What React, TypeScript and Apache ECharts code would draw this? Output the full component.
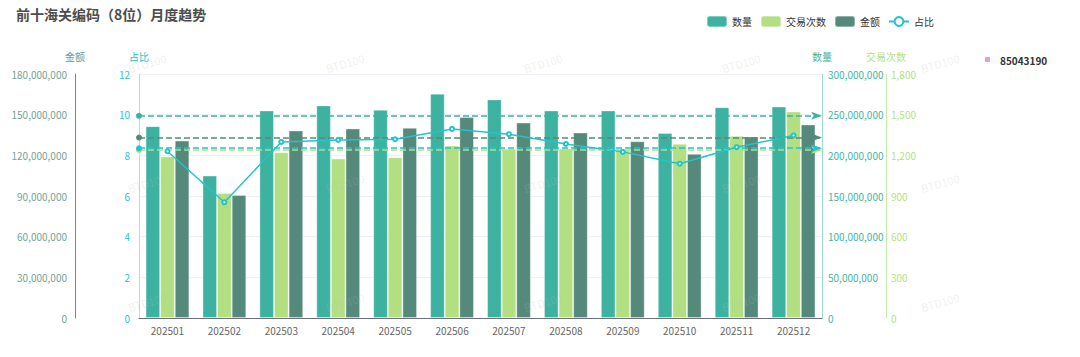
import React, { useEffect, useRef } from "react";
import * as echarts from "echarts";

const months = ["202501", "202502", "202503", "202504", "202505", "202506", "202507", "202508", "202509", "202510", "202511", "202512"];
const quantity = [235900000, 175100000, 255200000, 261400000, 256000000, 275800000, 268800000, 255200000, 255200000, 227600000, 259200000, 260000000];
const tradeCount = [1193, 922, 1223, 1176, 1186, 1272, 1248, 1250, 1242, 1285, 1344, 1524];
const amount = [130900000, 90700000, 138300000, 139800000, 140300000, 148200000, 144200000, 136800000, 130400000, 121100000, 133900000, 142800000];
const share = [8.2, 5.69, 8.66, 8.76, 8.79, 9.3, 9.04, 8.56, 8.17, 7.59, 8.4, 8.98];
const watermarkXs = [147, 345, 543, 741, 940];
const watermarkYs = [63, 183, 302];

const C_QTY = "#3eb2a1";
const C_CNT = "#b1df82";
const C_AMT = "#54897b";
const C_SHR = "#22c4ca";
const FONT = "'Noto Sans CJK SC', 'Noto Sans', sans-serif";

const fmt = (v: number) => Number(v).toLocaleString("en-US");

export default function App() {
  const ref = useRef<HTMLDivElement>(null);
  useEffect(() => {
    if (!ref.current) return;
    const chart = echarts.init(ref.current, undefined, { renderer: "svg" });
    const markLine = (color: string) => ({
      silent: true,
      symbol: ["circle", "arrow"],
      symbolSize: [6, 11],
      label: { show: false },
      lineStyle: { type: "dashed", width: 1.5, color },
      itemStyle: { color },
      emphasis: { disabled: true },
      data: [{ type: "average" }],
    });
    const watermarks: any[] = [];
    watermarkXs.forEach((x) =>
      watermarkYs.forEach((y) =>
        watermarks.push({
          type: "text",
          x,
          y,
          rotation: 0.28,
          silent: true,
          z: 100,
          style: {
            text: "BTD100",
            fill: "rgba(190,190,190,0.22)",
            font: `11px ${FONT}`,
            align: "center",
            verticalAlign: "middle",
          },
        })
      )
    );
    chart.setOption({
      animation: false,
      backgroundColor: "#fff",
      textStyle: { fontFamily: FONT },
      title: {
        text: "前十海关编码（8位）月度趋势",
        left: 16,
        top: 7,
        padding: 0,
        textStyle: { fontSize: 14, fontWeight: "bold", color: "#4d4d4d", fontFamily: FONT },
      },
      legend: {
        left: 706,
        top: 15,
        padding: 0,
        itemWidth: 20,
        itemHeight: 11,
        itemGap: 8,
        textStyle: { fontSize: 10, color: "#333", fontFamily: FONT },
        data: ["数量", "交易次数", "金额", "占比"],
      },
      graphic: [
        { type: "rect", shape: { x: 985, y: 57, width: 5, height: 5 }, style: { fill: "#dda3dd" } },
        {
          type: "text",
          x: 1000,
          y: 60,
          style: { text: "85043190", fill: "#333", font: `bold 10px ${FONT}`, verticalAlign: "middle" },
        },
        ...watermarks,
      ],
      grid: { left: 139, right: 258, top: 74, bottom: 39 },
      xAxis: {
        type: "category",
        data: months,
        axisTick: { alignWithLabel: true, length: 4, lineStyle: { color: "#6e7079" } },
        axisLine: { lineStyle: { color: "#6e7079" } },
        axisLabel: { fontSize: 10, color: "#666", margin: 7 },
      },
      yAxis: [
        {
          type: "value",
          name: "占比",
          position: "left",
          min: 0,
          max: 12,
          interval: 2,
          nameGap: 13,
          nameTextStyle: { color: C_SHR, fontSize: 10, align: "center" },
          axisLine: { show: true, lineStyle: { color: "#a3e4e6" } },
          axisLabel: { color: "#33c3ca", fontSize: 10, margin: 9 },
          splitLine: { show: true, lineStyle: { color: "#eef0f6" } },
        },
        {
          type: "value",
          name: "金额",
          position: "left",
          offset: 64,
          min: 0,
          max: 180000000,
          interval: 30000000,
          nameGap: 13,
          nameTextStyle: { color: "#6a9a8e", fontSize: 10, align: "center" },
          axisLine: { show: true, lineStyle: { color: "#6a8f87" } },
          axisLabel: { color: "#76a196", fontSize: 10, margin: 8, formatter: fmt },
          splitLine: { show: false },
        },
        {
          type: "value",
          name: "数量",
          position: "right",
          min: 0,
          max: 300000000,
          interval: 50000000,
          nameGap: 13,
          nameTextStyle: { color: C_QTY, fontSize: 10, align: "center" },
          axisLine: { show: true, lineStyle: { color: "#9fd8cf" } },
          axisLabel: { color: "#45b4a4", fontSize: 10, margin: 6, formatter: fmt },
          splitLine: { show: false },
        },
        {
          type: "value",
          name: "交易次数",
          position: "right",
          offset: 64,
          min: 0,
          max: 1800,
          interval: 300,
          nameGap: 13,
          nameTextStyle: { color: "#b3df86", fontSize: 10, align: "center" },
          axisLine: { show: true, lineStyle: { color: "#c6e8a8" } },
          axisLabel: { color: "#b3df86", fontSize: 10, margin: 5, formatter: fmt },
          splitLine: { show: false },
        },
      ],
      series: [
        {
          name: "数量",
          type: "bar",
          yAxisIndex: 2,
          data: quantity,
          barGap: "0%",
          barCategoryGap: "23%",
          itemStyle: { color: C_QTY, borderColor: "rgba(255,255,255,0.35)", borderWidth: 1 },
          markLine: markLine(C_QTY),
        },
        {
          name: "交易次数",
          type: "bar",
          yAxisIndex: 3,
          data: tradeCount,
          itemStyle: { color: C_CNT, borderColor: "rgba(255,255,255,0.35)", borderWidth: 1 },
          markLine: markLine(C_CNT),
        },
        {
          name: "金额",
          type: "bar",
          yAxisIndex: 1,
          data: amount,
          itemStyle: { color: C_AMT, borderColor: "rgba(255,255,255,0.35)", borderWidth: 1 },
          markLine: markLine(C_AMT),
        },
        {
          name: "占比",
          type: "line",
          yAxisIndex: 0,
          data: share,
          symbol: "emptyCircle",
          symbolSize: 4,
          z: 5,
          lineStyle: { color: C_SHR, width: 1.5 },
          itemStyle: { color: C_SHR },
          markLine: markLine(C_SHR),
        },
      ],
    });
    return () => chart.dispose();
  }, []);
  return <div ref={ref} style={{ position: "fixed", left: 0, top: 0, width: 1080, height: 357 }} />;
}
